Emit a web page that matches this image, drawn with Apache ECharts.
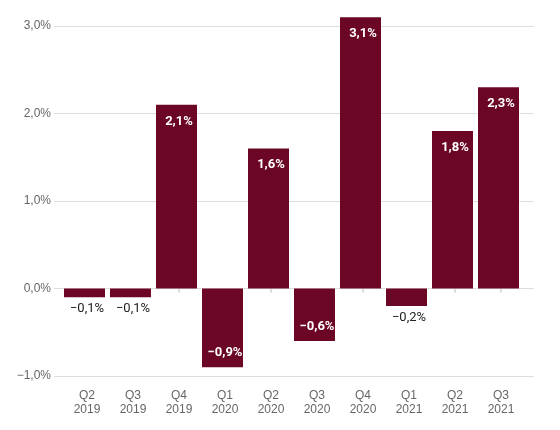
<!DOCTYPE html>
<html><head><meta charset="utf-8">
<script src="https://cdn.jsdelivr.net/npm/echarts@6/dist/echarts.min.js"></script>
<style>html,body{margin:0;padding:0;background:#fff}#c{width:560px;height:430px}</style>
</head><body><div id="c"></div>
<script>
const quarters = ['Q2\n2019','Q3\n2019','Q4\n2019','Q1\n2020','Q2\n2020','Q3\n2020','Q4\n2020','Q1\n2021','Q2\n2021','Q3\n2021'];
const values = [-0.1,-0.1,2.1,-0.9,1.6,-0.6,3.1,-0.2,1.8,2.3];
const yTicks = [-1,0,1,2,3];

const fmt = v => (v < 0 ? '\u2212' : '') + Math.abs(v).toFixed(1).replace('.', ',') + '%';
const barColor = '#6b0724';
const axisFont = '"Liberation Sans", Arial, sans-serif';
const valFont = 'Roboto, "Noto Sans", sans-serif';

const data = values.map(v => {
  let label;
  if (v >= 0) {
    label = {position: 'insideTop', distance: 10, color: '#fff', fontWeight: 'bold', offset: [2.5, 0]};
  } else if (v > -0.4) {
    label = {position: 'bottom', distance: 5, color: '#222', fontWeight: 'normal', offset: [2.5, 0]};
  } else {
    label = {position: 'insideBottom', distance: 8, color: '#fff', fontWeight: 'bold', offset: [2.5, 0]};
  }
  return {value: v, label: label};
});

const chart = echarts.init(document.getElementById('c'), null, {renderer: 'canvas'});
chart.setOption({
  animation: false,
  backgroundColor: '#fff',
  grid: [
    {left: 54, right: 26, top: 26, bottom: 54},
    {left: 61.5, right: 38.5, top: 26, bottom: 54},
    {left: 64, right: 36, top: 26, bottom: 54}
  ],
  xAxis: [
    {gridIndex: 0, type: 'category', data: quarters, show: false},
    {gridIndex: 1, type: 'category', data: quarters, show: false},
    {gridIndex: 2, type: 'category', data: quarters, offset: 5,
     axisLine: {show: false},
     axisTick: {show: true, alignWithLabel: true, length: 4, lineStyle: {color: '#dcdcdc', width: 2}},
     axisLabel: {color: '#666', fontSize: 12, lineHeight: 14, margin: 8, fontFamily: axisFont}}
  ],
  yAxis: [
    {gridIndex: 0, type: 'value', min: yTicks[0], max: yTicks[yTicks.length-1], interval: 1,
     axisLine: {show: false}, axisTick: {show: false},
     splitLine: {lineStyle: {color: '#dedede', width: 1}},
     axisLabel: {formatter: fmt, color: '#666', fontSize: 12, margin: 3, fontFamily: axisFont}},
    {gridIndex: 1, type: 'value', min: yTicks[0], max: yTicks[yTicks.length-1], interval: 1, show: false, splitLine: {show: false}},
    {gridIndex: 2, type: 'value', min: yTicks[0], max: yTicks[yTicks.length-1], interval: 1, show: false, splitLine: {show: false}}
  ],
  series: [{
    type: 'bar',
    xAxisIndex: 1, yAxisIndex: 1,
    data: data,
    barWidth: 41,
    clip: false,
    itemStyle: {color: barColor},
    label: {show: true, formatter: p => fmt(p.value), fontSize: 13, fontFamily: valFont}
  }]
});
</script></body></html>
